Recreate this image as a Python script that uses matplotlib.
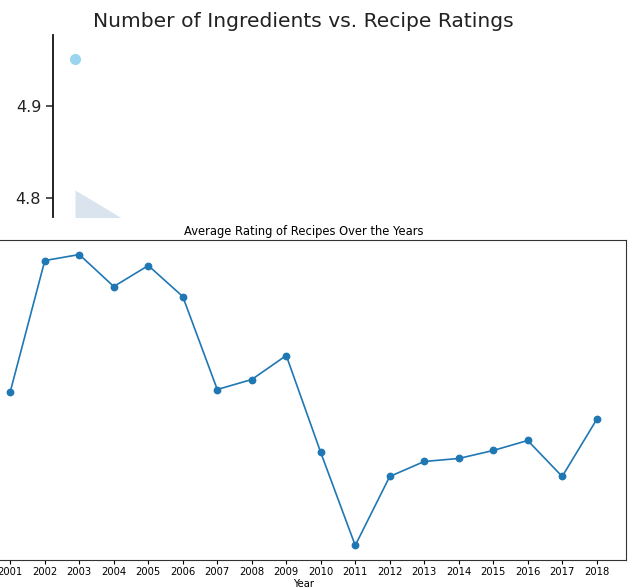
import numpy as np
import matplotlib
matplotlib.use("Agg")
import matplotlib.pyplot as plt

# top panel (only a corner of it is visible): one scatter point + regression band
ingr_x = [1]
ingr_rating = [4.951]
band_x = [1, 4]
band_hi = [4.8087, 4.7695]
band_lo = [4.70, 4.65]

# bottom panel: average rating per year
years = list(range(2001, 2019))
avg_rating = [4.483, 4.614, 4.620, 4.588, 4.609, 4.578, 4.485, 4.495, 4.519,
              4.422, 4.329, 4.398, 4.413, 4.416, 4.424, 4.434, 4.398, 4.455]

W, H = 628, 587
fig = plt.figure(figsize=(W / 100, H / 100), dpi=100)

# --- top: "Number of Ingredients vs. Recipe Ratings" (seaborn-ish style)
ax1 = fig.add_axes([53 / W, 1 - 217 / H, 500 / W, (217 - 35) / H])
ax1.fill_between(band_x, band_lo, band_hi, color="#dae4ef", lw=0)
ax1.scatter(ingr_x, ingr_rating, s=64, color="skyblue", alpha=0.85, lw=0)
ax1.set_xlim(-0.1, 24.9)
ax1.set_ylim(4.7793, 4.9772)
ax1.set_yticks([4.8, 4.9])
ax1.set_xticks([])
ax1.tick_params(axis="y", labelsize=11.5, length=5, width=1.1, colors="#222222")
ax1.spines[["top", "right", "bottom"]].set_visible(False)
ax1.spines["left"].set_color("#111111")
ax1.spines["left"].set_linewidth(1.3)
ax1.set_title("Number of Ingredients vs. Recipe Ratings", fontsize=14.6, color="#222222")

# --- bottom: "Average Rating of Recipes Over the Years"
# its left edge (and the y tick labels) sit outside the canvas
ax2 = fig.add_axes([-19 / W, 1 - 560 / H, 645 / W, 320 / H])
ax2.plot(years, avg_rating, marker="o", markersize=4.6, lw=1.2, color="#1f77b4")
ax2.set_xticks(years)
ax2.tick_params(labelsize=7.2, length=3, pad=2)
ax2.tick_params(axis="y", labelleft=False)
ax2.set_title("Average Rating of Recipes Over the Years", fontsize=8.3, pad=3.5)
ax2.set_xlabel("Year", fontsize=7.2, labelpad=1.5)
for sp in ax2.spines.values():
    sp.set_color("#333333")

fig.savefig("out.png", dpi=100)
